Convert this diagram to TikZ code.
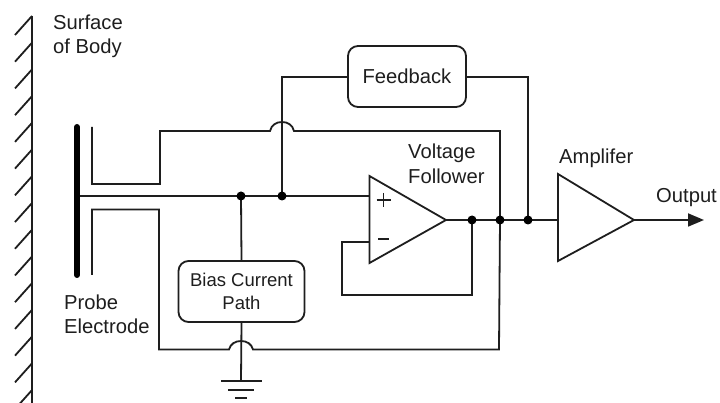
\documentclass[tikz,border=0pt]{standalone}
\usepackage{fontspec}
\setmainfont{Liberation Sans}
\usetikzlibrary{arrows.meta}
\definecolor{ink}{HTML}{1E1E1E}
\tikzset{
  wire/.style={draw=ink,line width=1.8pt,line join=miter},
  label/.style={inner sep=0pt,anchor=base west,text=ink,font=\fontsize{20.2}{23}\selectfont},
  blockbox/.style={draw=ink,line width=1.8pt,rounded corners=10pt,inner sep=0pt,align=center,text=ink},
  dot/.style={circle,fill=black,inner sep=0pt,minimum size=9pt},
  amp/.style={draw=ink,line width=1.8pt,line join=miter,fill=white},
  sign/.style={inner sep=0pt,text=ink}
}
\begin{document}
\begin{tikzpicture}[x=1pt,y=-1pt]
\useasboundingbox (0,0) rectangle (720,403);
\fill[white] (0,0) rectangle (720,403);
% wall
\coordinate (wt) at (32,16);
\coordinate (wb) at (32,403);
\draw[wire] (wt) -- (wb);
\foreach \k in {0,...,14}{
  \draw[wire] (32,16+26.72*\k) -- (15,35+26.72*\k);
}
% nodes
\node[blockbox,minimum width=118pt,minimum height=61pt,font=\fontsize{20.2}{23}\selectfont] (fb) at (407,76.5) {Feedback};
\node[blockbox,minimum width=126pt,minimum height=61pt,font=\fontsize{18.5}{23}\selectfont] (bias) at (241.5,291.5) {Bias Current\\Path};
\coordinate (j1) at (241,196);
\coordinate (j2) at (282,196);
\coordinate (j3) at (472,220);
\coordinate (j4) at (500,220);
\coordinate (j5) at (528,220);
\coordinate (plus) at (369.5,196);
\coordinate (minus) at (369.5,242);
\coordinate (oatip) at (446,220);
\coordinate (ampin) at (558,220);
\coordinate (amptip) at (634,220);
\coordinate (out) at (704,220);
\coordinate (eltop) at (77,127);
\coordinate (elbot) at (77,275);
\coordinate (elmid) at (77,196);
\coordinate (gnd) at (241,381);
% wiring
\draw[wire] (elmid) -- (plus);
\draw[wire] (j1) -- (bias.north);
\draw[wire] (bias.south) -- (gnd);
\draw[wire] (j2) -- (282,77) -- (fb.west |- 0,77);
\draw[wire] (fb.east |- 0,77) -- (528,77) -- (j5);
\draw[wire] (oatip) -- (ampin);
\draw[wire] (j3) -- (472,295) -- (342,295) -- (342,242) -- (minus);
\draw[wire] (92,127) -- (92,184) -- (160,184) -- (160,131) -- (270,131)
  .. controls (271.5,125) and (276,122) .. (282,122)
  .. controls (288,122) and (292.5,125) .. (294,131)
  -- (500,131) -- (j4);
\draw[wire] (92,275) -- (92,209.5) -- (159,209.5) -- (159,349.5) -- (229,349.5)
  .. controls (230.5,344) and (235,341) .. (241,341)
  .. controls (247,341) and (251.5,344) .. (253,349.5)
  -- (499,349.5) -- (j4);
\draw[wire,-{Triangle[length=16pt,width=13pt]}] (amptip) -- (out);
% electrode
\draw[draw=black,line width=6pt,line cap=round] (eltop) -- (elbot);
% ground
\draw[wire] (221,381) -- (262,381);
\draw[wire] (228,390) -- (254,390);
\draw[wire] (235,398) -- (247,398);
% amplifiers
\draw[amp] (369.5,176) -- (oatip) -- (369.5,263) -- cycle;
\draw[amp] (558,174) -- (amptip) -- (558,261) -- cycle;
\draw[wire] (376.5,200) -- (390.5,200) (383.5,193) -- (383.5,207);
\draw[wire] (378,239) -- (389,239);
% dots
\foreach \n in {j1,j2,j3,j4,j5}{\node[dot] (d\n) at (\n) {};}
% labels
\node[label] (surf) at (53,30) {Surface};
\node[label] (body) at (53,54) {of Body};
\node[label] (probe) at (64,309) {Probe};
\node[label] (elec) at (64,334) {Electrode};
\node[label] (volt) at (408,159) {Voltage};
\node[label] (foll) at (408,184) {Follower};
\node[label] (ampl) at (559,164) {Amplifer};
\node[label] (outp) at (656,203) {Output};
\end{tikzpicture}
\end{document}
